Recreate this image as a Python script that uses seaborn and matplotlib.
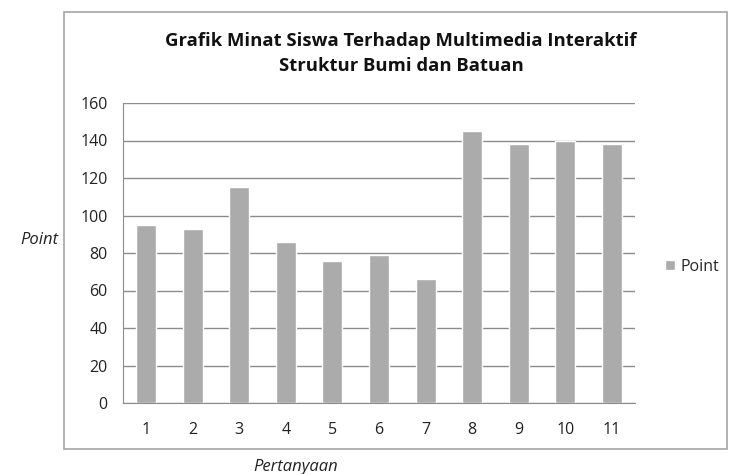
import matplotlib
matplotlib.use("Agg")
import matplotlib.pyplot as plt
import seaborn as sns
import pandas as pd
from matplotlib.patches import Rectangle
from matplotlib.ticker import MultipleLocator, FixedLocator

categories = ["1", "2", "3", "4", "5", "6", "7", "8", "9", "10", "11"]
points = [95, 93, 115, 86, 76, 79, 66, 145, 138, 140, 138]
title_lines = ["Grafik Minat Siswa Terhadap Multimedia Interaktif", "Struktur Bumi dan Batuan"]

sns.set_style("white")
plt.rcParams['font.family'] = ['Open Sans', 'DejaVu Sans']

df = pd.DataFrame({"Pertanyaan": categories, "Point": points})

W, H = 729, 474
fig = plt.figure(figsize=(W / 100, H / 100), dpi=100)
fig.patch.set_facecolor("white")

# chart frame
fig.patches.append(Rectangle((64 / W, 1 - 449 / H), (727 - 64) / W, (449 - 12) / H,
                             transform=fig.transFigure, fill=False, edgecolor="#a6a6a6", lw=1.2))

ax = fig.add_axes([123 / W, 1 - 403 / H, (635 - 123) / W, (403 - 103) / H])
sns.barplot(data=df, x="Pertanyaan", y="Point", color="#ababab", width=0.43,
            saturation=1, ax=ax, label="Point")
ax.set_ylim(0, 160)
ax.set_xlim(-0.5, 10.5)
ax.yaxis.set_major_locator(MultipleLocator(20))
ax.grid(axis="y", color="#8c8c8c", lw=1.0)
ax.set_axisbelow(True)
for s in ["top", "right"]:
    ax.spines[s].set_visible(False)
ax.spines["left"].set_color("#8c8c8c")
ax.spines["bottom"].set_color("#8c8c8c")
ax.xaxis.set_minor_locator(FixedLocator([i - 0.5 for i in range(12)]))
ax.tick_params(axis="x", which="major", length=0, pad=14, labelsize=11.5, colors="#222222")
ax.tick_params(axis="x", which="minor", length=6, direction="out", color="#8c8c8c")
ax.tick_params(axis="y", which="major", length=5, direction="out", color="#8c8c8c",
               labelsize=11.5, labelcolor="#222222", pad=6)
ax.set_xlabel("")
ax.set_ylabel("")

fig.text(296 / W, 1 - 467 / H, "Pertanyaan", ha="center", va="center", fontsize=12,
         style="italic", color="#222222")
fig.text(39 / W, 1 - 240 / H, "Point", ha="center", va="center", fontsize=12,
         style="italic", color="#222222")
fig.text(401 / W, 1 - 41 / H, title_lines[0], ha="center", va="center", fontsize=13.3,
         fontweight="bold", color="#111111")
fig.text(401 / W, 1 - 66 / H, title_lines[1], ha="center", va="center", fontsize=13.3,
         fontweight="bold", color="#111111")

leg = ax.legend(loc="center left", bbox_to_anchor=(657 / W, 1 - 267 / H),
                bbox_transform=fig.transFigure, frameon=False, fontsize=11.5,
                handlelength=0.6, handleheight=0.6, handletextpad=0.4, borderpad=0)

fig.savefig("out.png", dpi=100)
